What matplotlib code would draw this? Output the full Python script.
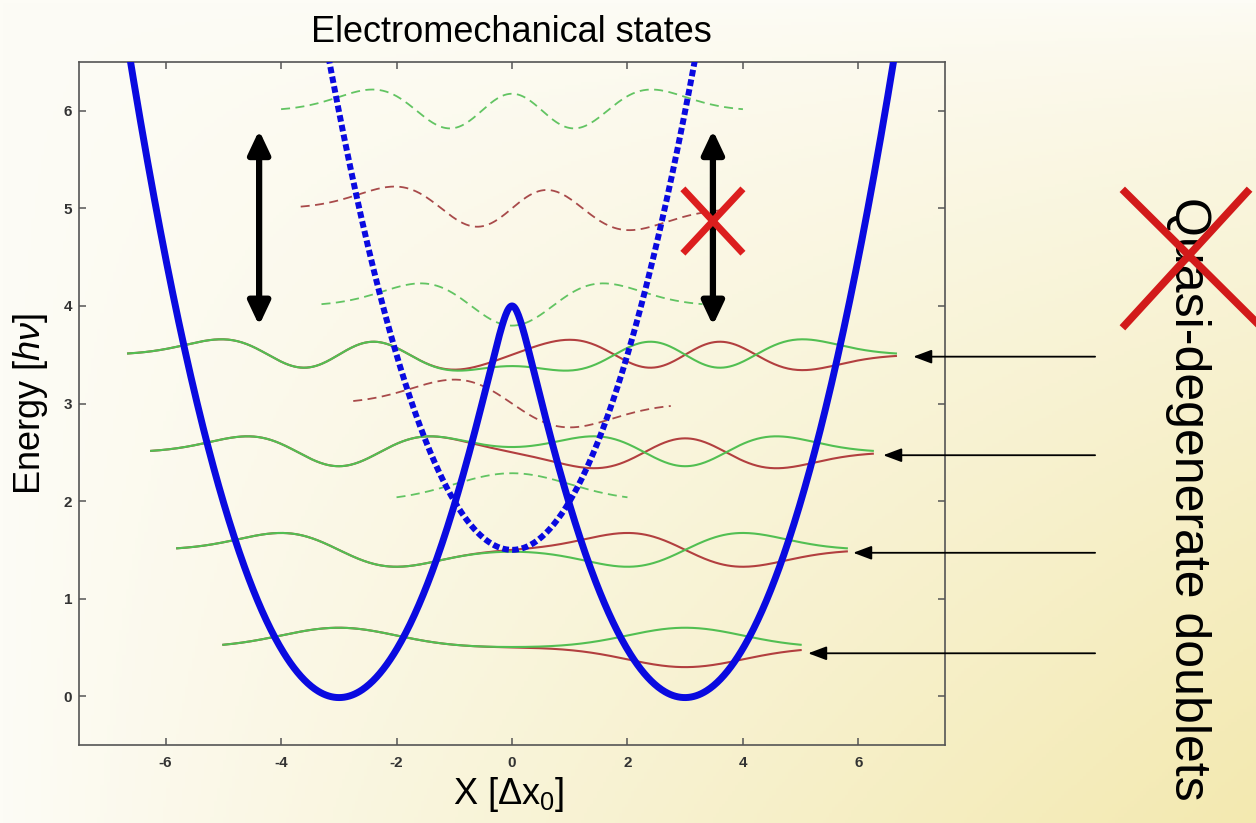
import numpy as np
import matplotlib
matplotlib.use("Agg")
import matplotlib.pyplot as plt
from matplotlib.lines import Line2D
from math import factorial

plt.rcParams['font.family'] = ['Liberation Sans', 'DejaVu Sans']
plt.rcParams['mathtext.fontset'] = 'custom'
plt.rcParams['mathtext.rm'] = 'Liberation Sans'
plt.rcParams['mathtext.it'] = 'Liberation Sans:italic'
plt.rcParams['axes.unicode_minus'] = False

# model (units: hv and dx0)
well_pos = 3.0          # minima of the double well
barrier_top = 4.0       # height of the central hump
trap_min = 1.5          # bottom of the dotted (charged) parabola
amp = 0.38              # drawing scale of the wavefunctions

doublet_E = [0.5, 1.5, 2.5, 3.5]
doublet_reach = [5.0, 5.8, 6.25, 6.65]
trap_E = [2, 3, 4, 5, 6]
trap_reach = [2.0, 2.75, 3.3, 3.66, 4.0]

arrow_E = [3.48, 2.47, 1.47, 0.44]
arrow_tip = [6.95, 6.43, 5.91, 5.13]
arrow_tail = 10.1

jump_x = [-4.38, 3.48]
jump_lo, jump_hi = 3.8, 5.8
cross_x, cross_y = 3.48, 4.87

xticks = [-6, -4, -2, 0, 2, 4, 6]
yticks = [0, 1, 2, 3, 4, 5, 6]


def psi(n, y):
    c = np.zeros(n + 1)
    c[n] = 1
    norm = np.sqrt(2**n * factorial(n) * np.sqrt(np.pi))
    return np.polynomial.hermite.hermval(y, c) * np.exp(-y**2 / 2) / norm


W, H = 1256, 823
fig = plt.figure(figsize=(W / 100, H / 100), dpi=100)

# background gradient, white top-left to pale yellow bottom-right
bg = fig.add_axes([0, 0, 1, 1], zorder=0)
gx, gy = np.meshgrid(np.linspace(0, 1, 400), np.linspace(0, 1, 260))
t = np.clip(gx**0.9 * gy**0.7, 0, 1)[..., None]
white = np.array([253, 252, 246]) / 255
yellow = np.array([243, 233, 176]) / 255
bg.imshow(white * (1 - t) + yellow * t, aspect='auto', extent=[0, 1, 0, 1])
bg.axis('off')

ax = fig.add_axes([79 / W, 1 - 745 / H, 866 / W, 683 / H], zorder=1)
ax.set_facecolor('none')

green = '#52bf52'
red = '#b23f3f'
green_d = '#62c462'
red_d = '#a84a4a'

# double-well doublets
for n, (E, r) in enumerate(zip(doublet_E, doublet_reach)):
    x = np.linspace(-r, r, 500)
    left = (-1)**n * psi(n, x + well_pos)
    right = psi(n, x - well_pos)
    s = amp / np.sqrt(2)
    ax.plot(x, E + s * (left - right), color=red, lw=1.5, zorder=2)
    ax.plot(x, E + s * (left + right), color=green, lw=1.5, zorder=3)

# states of the central parabola
for n, (E, r) in enumerate(zip(trap_E, trap_reach)):
    x = np.linspace(-r, r, 400)
    col = green_d if n % 2 == 0 else red_d
    ax.plot(x, E + amp * (-1)**n * psi(n, x), color=col, lw=1.3,
            linestyle=(0, (5, 3)), zorder=2)

# potentials
x = np.linspace(-7.5, 7.5, 1000)
vl = 0.5 * (x + well_pos)**2
vr = 0.5 * (x - well_pos)**2
delta = 0.5 * well_pos**2 - barrier_top
v = (vl + vr) / 2 - np.sqrt(((vl - vr) / 2)**2 + delta**2)
ax.plot(x, v, color='#0a0ae0', lw=5, zorder=5)
xd = np.linspace(-3.4, 3.4, 400)
ax.plot(xd, trap_min + 0.5 * xd**2, color='#0a0ae0', lw=4.3,
        linestyle=(0, (1.1, 0.55)), dash_capstyle='butt', zorder=5)

# transitions
for xa in jump_x:
    ax.annotate('', xy=(xa, jump_hi), xytext=(xa, jump_lo),
                arrowprops=dict(arrowstyle='<|-|>,head_length=0.7,head_width=0.33',
                                lw=4.5, color='k', mutation_scale=20,
                                shrinkA=0, shrinkB=0), zorder=6)
ax.plot([cross_x - 0.52, cross_x + 0.52], [cross_y - 0.33, cross_y + 0.33],
        color='#dc1e1e', lw=5, solid_capstyle='butt', zorder=7)
ax.plot([cross_x - 0.52, cross_x + 0.52], [cross_y + 0.33, cross_y - 0.33],
        color='#dc1e1e', lw=5, solid_capstyle='butt', zorder=7)

for E, tip in zip(arrow_E, arrow_tip):
    ax.annotate('', xy=(tip, E), xytext=(arrow_tail, E), annotation_clip=False,
                arrowprops=dict(arrowstyle='-|>,head_length=0.8,head_width=0.3',
                                lw=1.3, color='k', mutation_scale=14,
                                shrinkA=0, shrinkB=0))

ax.set_xlim(-7.5, 7.5)
ax.set_ylim(-0.5, 6.5)
ax.set_xticks(xticks)
ax.set_yticks(yticks)
ax.tick_params(direction='in', length=5, width=1.1, color='#555555',
               top=True, right=True, labelsize=11, labelcolor='#333333')
ax.tick_params(axis='x', pad=8)
ax.tick_params(axis='y', pad=5)
for lab in ax.get_xticklabels() + ax.get_yticklabels():
    lab.set_fontweight('bold')
for sp in ax.spines.values():
    sp.set_color('#555555')
    sp.set_linewidth(1.2)

fig.text(511 / W, 1 - 32 / H, 'Electromechanical states', ha='center',
         va='center', fontsize=26)
fig.text(509 / W, 1 - 795 / H, r'X [$\Delta$x$_0$]', ha='center',
         va='center', fontsize=26)
fig.text(30 / W, 1 - 404 / H, r'Energy [$h\nu$]', ha='center', va='center',
         rotation=90, fontsize=26)

fig.text(1188 / W, 1 - 499 / H, 'Quasi-degenerate doublets', ha='center',
         va='center', rotation=-90, fontsize=36, zorder=3)
fig.add_artist(Line2D([1125 / W, 1256 / W], [1 - 192 / H, 1 - 322 / H],
                      transform=fig.transFigure, color='#d21a1a', lw=5.5, zorder=4))
fig.add_artist(Line2D([1125 / W, 1247 / W], [1 - 325 / H, 1 - 192 / H],
                      transform=fig.transFigure, color='#d21a1a', lw=5.5, zorder=4))

fig.savefig('out.png', dpi=100)
